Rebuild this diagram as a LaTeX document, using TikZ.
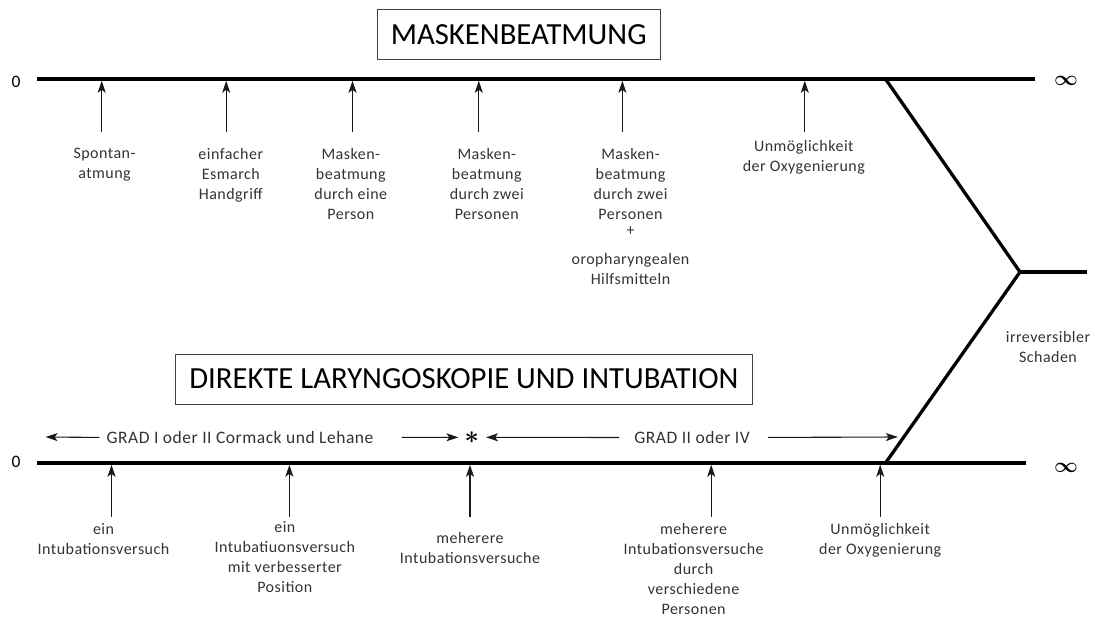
\documentclass[tikz,border=0pt]{standalone}
\usepackage{fontspec}
\setmainfont{Carlito}
\newfontfamily\etikett{Carlito}[LetterSpace=3]
\usetikzlibrary{arrows.meta}

\begin{document}
\begin{tikzpicture}[x=1pt,y=-1pt]
    \tikzstyle{every node}=[inner sep=0pt]
    \tikzstyle{achse}=[line width=3.3pt, line join=round]
    \tikzstyle{pfeil}=[line width=1.1pt, black!90, -{Stealth[length=12pt,width=8pt,inset=3pt]}]
    \tikzstyle{titel}=[draw=black!75, line width=1pt, font=\fontsize{30.7}{36}\selectfont]
    % erste Zeile hat immer 12pt Hoehe -> north = Grundlinie - 12
    \tikzstyle{stufe}=[anchor=north, align=center, text=black!80, font=\etikett\fontsize{16}{20}\selectfont,
        execute at begin node=\rule{0pt}{12pt}]
    \tikzstyle{grad}=[text=black!80, font=\etikett\fontsize{17.5}{21}\selectfont]

    \useasboundingbox (0,0) rectangle (1095,619);

    % Titel
    \node[titel, minimum width=282.7pt, minimum height=50.5pt] (maske) at (518.7,34.3) {MASKENBEATMUNG};
    \node[titel, minimum width=576.8pt, minimum height=50pt] (laryngo) at (463.8,379) {DIREKTE LARYNGOSKOPIE UND INTUBATION};

    % Achsen
    \coordinate (m0) at (36.8,79);
    \coordinate (mk) at (885.5,79);
    \coordinate (m9) at (1034.6,79);
    \coordinate (i0) at (36.8,463);
    \coordinate (ik) at (885.5,463);
    \coordinate (i9) at (1025.8,463);
    \coordinate (schaden) at (1020,272);
    \coordinate (s9) at (1086.7,272);
    \draw[achse] (m0) -- (m9);
    \draw[achse] (i0) -- (i9);
    \draw[achse] (mk) -- (schaden) -- (ik);
    \draw[achse] (schaden) -- (s9);

    \node[grad, text=black] (null1) at (16,82) {0};
    \node[grad, text=black] (null2) at (16,462) {0};
    \node[font=\fontsize{22}{22}\selectfont\boldmath] (inf1) at (1066,80.5) {$\infty$};
    \node[font=\fontsize{22}{22}\selectfont\boldmath] (inf2) at (1066,467.5) {$\infty$};

    % Maskenbeatmung
    \node[stufe] (spontan) at (104.5,148) {Spontan-\\atmung};
    \node[stufe] (esmarch) at (230.8,148) {einfacher\\Esmarch\\Handgriff};
    \node[stufe] (eine) at (350.8,148) {Masken-\\beatmung\\durch eine\\Person};
    \node[stufe] (zwei) at (486.8,148) {Masken-\\beatmung\\durch zwei\\Personen};
    \node[stufe] (hilfe) at (630.5,148) {Masken-\\beatmung\\durch zwei\\Personen\\[-4pt]+\\[9pt]oropharyngealen\\Hilfsmitteln};
    \node[stufe] (oxy1) at (803.8,140) {Unmöglichkeit\\der Oxygenierung};
    \node[stufe] (irrev) at (1048,331.3) {irreversibler\\Schaden};

    \foreach \x [count=\i] in {101.7,226.2,352.5,478.8,622.4,804.8} {
        \coordinate (m\i) at (\x,80.8);
        \draw[pfeil] (m\i) ++(0,51.2) -- (m\i);
    }

    % Intubation
    \node[stufe] (ein) at (103.5,523) {ein\\Intubationsversuch};
    \node[stufe] (position) at (284.8,521.3) {ein\\Intubatiuonsversuch\\mit verbesserter\\Position};
    \node[stufe] (mehrere) at (470,532.3) {meherere\\Intubationsversuche};
    \node[stufe] (personen) at (693.6,523) {meherere\\Intubationsversuche\\durch\\verschiedene\\Personen};
    \node[stufe] (oxy2) at (880.2,523) {Unmöglichkeit\\der Oxygenierung};

    \foreach \x [count=\i] in {111.5,289.4,470,711.2,880.2} {
        \coordinate (i\i) at (\x,464.8);
        \draw[pfeil] (i\i) ++(0,52.2) -- (i\i);
    }

    % Grade
    \node[grad] (grad12) at (240,437.5) {GRAD I oder II Cormack und Lehane};
    \node[font=\fontsize{26}{26}\selectfont\boldmath] (stern) at (471.7,437.3) {$\ast$};
    \node[grad] (grad34) at (692,437.5) {GRAD II oder IV};
    \coordinate (gl) at (45.6,437);
    \coordinate (gr) at (897.8,437);
    \draw[pfeil, shorten <=7pt] (grad12.west) -- (gl);
    \draw[pfeil, shorten <=28pt, shorten >=6pt] (grad12.east) -- (stern.west);
    \draw[pfeil, shorten <=15pt, shorten >=7pt] (grad34.west) -- (stern.east);
    \draw[pfeil, shorten <=18pt] (grad34.east) -- (gr);
\end{tikzpicture}
\end{document}
